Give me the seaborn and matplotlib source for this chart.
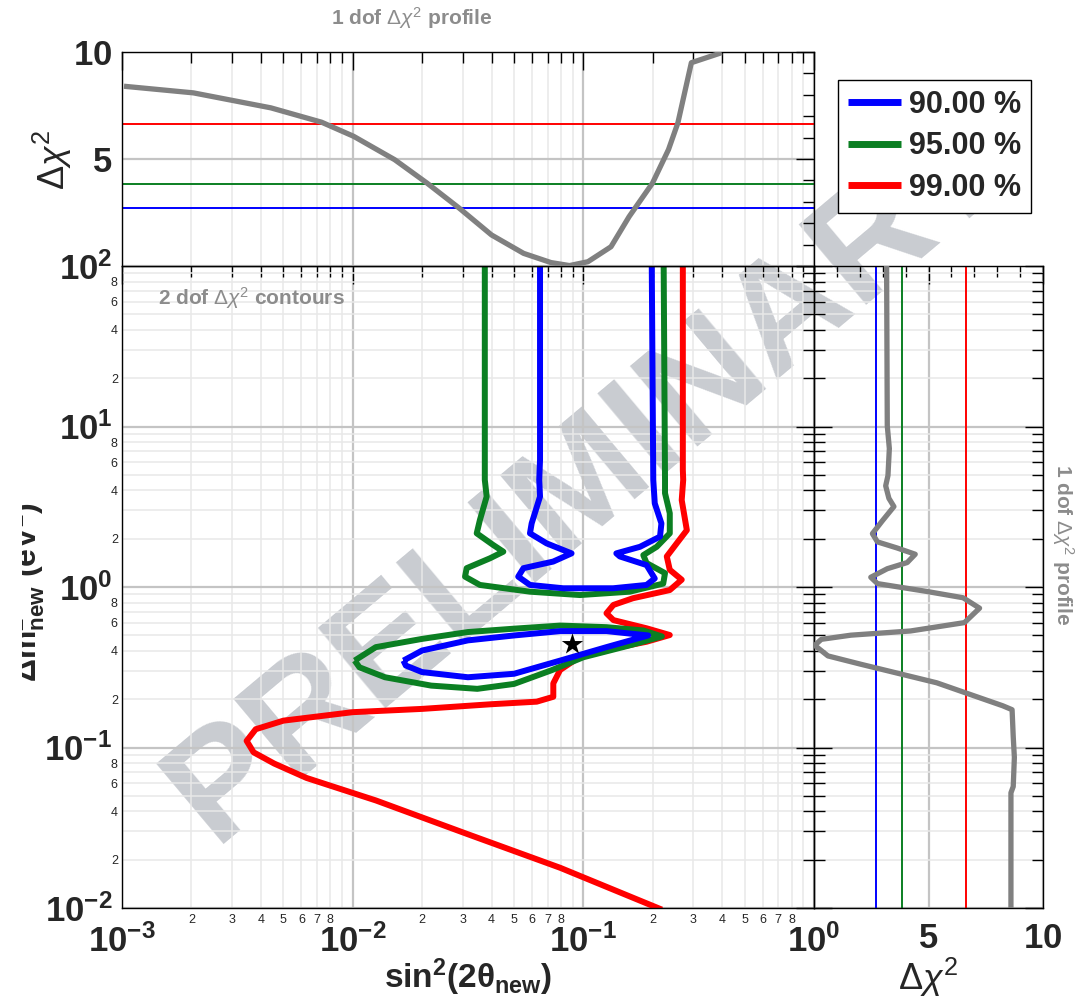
import numpy as np
import pandas as pd
import matplotlib
matplotlib.use("Agg")
import matplotlib.pyplot as plt
import matplotlib.ticker as mticker
from matplotlib.lines import Line2D
from matplotlib.transforms import Bbox
import seaborn as sns

# ---------------- data ----------------
cl_levels = [2.71, 3.84, 6.63]
cl_labels = ["90.00 %", "95.00 %", "99.00 %"]
cl_colors = ["#0000ff", "#0b7f22", "#ff0000"]

# 1 dof profile vs sin^2(2theta)
top_s2 = [0.00102, 0.00204, 0.00442, 0.00733, 0.0101, 0.0152, 0.0210, 0.0290, 0.0400, 0.0551,
          0.0724, 0.0871, 0.1047, 0.1318, 0.158, 0.1995, 0.234, 0.257, 0.294, 0.398]
top_dchi2 = [8.4, 8.09, 7.39, 6.72, 6.06, 4.97, 3.875, 2.70, 1.45, 0.59,
             0.16, 0.02, 0.2, 0.9, 2.31, 3.875, 5.44, 6.69, 9.5, 9.97]

# 1 dof profile vs dm^2
right_dchi2 = [3.17, 3.2, 3.29, 3.23, 3.13, 3.27, 3.49, 2.98, 2.55, 2.77, 3.63, 4.42, 4.07, 3.2,
               2.48, 2.77, 4.93, 6.51, 7.23, 6.57, 4.21, 1.61, 0.32, 0.03, 0.61, 2.05, 3.49,
               5.36, 6.66, 8.24, 8.65, 8.7, 8.75, 8.7, 8.6, 8.6]
right_dm2 = [100, 10.1, 7.29, 4.95, 4.27, 3.57, 3.17, 2.58, 2.15, 1.91, 1.75, 1.60, 1.42, 1.30,
             1.15, 1.05, 0.938, 0.857, 0.738, 0.600, 0.532, 0.501, 0.472, 0.433, 0.372, 0.330,
             0.294, 0.253, 0.218, 0.182, 0.172, 0.117, 0.0867, 0.0571, 0.0522, 0.01]

# 2 dof contours
blue_up_s2 = [0.0649, 0.0649, 0.0644, 0.0649, 0.0597, 0.0587, 0.0693, 0.0889, 0.0740, 0.0550,
              0.0522, 0.0587, 0.0818, 0.1346, 0.188, 0.204, 0.188, 0.144, 0.139, 0.176, 0.215,
              0.218, 0.204, 0.201, 0.198]
blue_up_dm2 = [100, 6.18, 4.65, 3.66, 2.49, 2.16, 1.87, 1.62, 1.44, 1.31, 1.16, 1.03, 0.982,
               0.982, 1.03, 1.13, 1.37, 1.55, 1.62, 1.78, 2.06, 2.49, 3.32, 4.65, 100]

green_up_s2 = [0.0374, 0.0374, 0.0374, 0.0381, 0.0356, 0.0345, 0.0406, 0.0450, 0.0394, 0.0312,
               0.0307, 0.0356, 0.0587, 0.0966, 0.159, 0.222, 0.226, 0.188, 0.182, 0.208, 0.237,
               0.237, 0.226, 0.226, 0.223]
green_up_dm2 = [100, 6.18, 4.65, 3.66, 2.61, 2.16, 1.83, 1.66, 1.51, 1.31, 1.16, 1.03, 0.935,
                0.891, 0.935, 1.05, 1.22, 1.41, 1.58, 1.78, 2.16, 2.88, 3.84, 4.65, 100]

red_s2 = [0.270, 0.270, 0.271, 0.267, 0.281, 0.254, 0.230, 0.237, 0.267, 0.237, 0.164, 0.135,
          0.126, 0.135, 0.188, 0.237, 0.188, 0.135, 0.0966, 0.0793, 0.0741, 0.0741, 0.0628,
          0.0398, 0.0200, 0.0100, 0.00501, 0.00380, 0.00347, 0.00372, 0.00457, 0.00631,
          0.0126, 0.0316, 0.0794, 0.219]
red_dm2 = [100, 5.36, 4.65, 3.48, 2.26, 1.87, 1.55, 1.28, 1.11, 0.957, 0.851, 0.773, 0.686,
           0.622, 0.553, 0.502, 0.456, 0.415, 0.368, 0.304, 0.251, 0.207, 0.193, 0.186, 0.174,
           0.166, 0.147, 0.130, 0.110, 0.0933, 0.0794, 0.0646, 0.0468, 0.0288, 0.0178, 0.00977]

green_low_s2 = [0.0102, 0.0126, 0.0200, 0.0316, 0.0501, 0.0794, 0.126, 0.182, 0.219, 0.158,
                0.100, 0.0724, 0.0501, 0.0347, 0.0219, 0.0138, 0.0107, 0.0102]
green_low_dm2 = [0.348, 0.422, 0.475, 0.524, 0.550, 0.575, 0.562, 0.536, 0.492, 0.432, 0.365,
                 0.302, 0.249, 0.232, 0.243, 0.274, 0.316, 0.348]

blue_low_s2 = [0.0166, 0.0200, 0.0316, 0.0501, 0.0794, 0.126, 0.191, 0.126, 0.0794, 0.0501,
               0.0316, 0.0200, 0.0170, 0.0166]
blue_low_dm2 = [0.348, 0.402, 0.465, 0.499, 0.531, 0.531, 0.499, 0.422, 0.348, 0.288, 0.274,
                0.295, 0.324, 0.348]

best_s2 = [0.089]
best_dm2 = [0.44]

# ---------------- style ----------------
sns.set_theme(style="white")
plt.rcParams["font.family"] = ["Liberation Sans", "DejaVu Sans"]
plt.rcParams["mathtext.fontset"] = "custom"
plt.rcParams["mathtext.rm"] = "Liberation Sans"
plt.rcParams["mathtext.it"] = "Liberation Sans:italic"
plt.rcParams["mathtext.bf"] = "Liberation Sans:bold"
plt.rcParams["mathtext.sf"] = "Liberation Sans"
plt.rcParams["lines.solid_joinstyle"] = "round"
plt.rcParams["lines.solid_capstyle"] = "butt"

W, H = 1079, 998
fig = plt.figure(figsize=(W / 100, H / 100), dpi=100)
fig.patch.set_facecolor("white")


def fx(p):
    return p / W


def fy(p):
    return 1 - p / H


ax_main = fig.add_axes([fx(122), fy(908), (814 - 122) / W, (908 - 266) / H])
ax_top = fig.add_axes([fx(122), fy(266), (814 - 122) / W, (266 - 52) / H])
ax_right = fig.add_axes([fx(814), fy(908), (1043 - 814) / W, (908 - 266) / H])

for a in (ax_main, ax_top, ax_right):
    a.set_zorder(1)
    a.patch.set_alpha(0)
    for s in a.spines.values():
        s.set_color("black")
        s.set_linewidth(1.0)

GRID_MAJ = dict(color="#c4c4c4", lw=1.6)
GRID_MIN = dict(color="#e8e8e8", lw=1.1)

# watermark
fig.text(fx(590), fy(478), "PRELIMINARY", rotation=40, rotation_mode="anchor",
         fontsize=110, fontweight="bold", color="#c9ccd1", ha="center", va="center", zorder=0.5)


def log_minor_fmt(allowed):
    def f(v, pos):
        if v <= 0:
            return ""
        e = np.floor(np.log10(v) + 1e-9)
        m = int(round(v / 10 ** e))
        return str(m) if m in allowed else ""
    return mticker.FuncFormatter(f)


def log_major_fmt(v, pos):
    e = int(round(np.log10(v)))
    return r"$\mathbf{10^{%d}}$" % e


# ---------------- main panel ----------------
ax = ax_main
ax.set_xscale("log")
ax.set_yscale("log")
ax.grid(which="major", **GRID_MAJ)
ax.grid(which="minor", **GRID_MIN)

LW = 4.3
contours = [
    (red_s2, red_dm2, cl_colors[2]),
    (green_up_s2, green_up_dm2, cl_colors[1]),
    (green_low_s2, green_low_dm2, cl_colors[1]),
    (blue_up_s2, blue_up_dm2, cl_colors[0]),
    (blue_low_s2, blue_low_dm2, cl_colors[0]),
]
for xs, ys, c in contours:
    sns.lineplot(x=xs, y=ys, sort=False, estimator=None, color=c, lw=LW, ax=ax)
sns.scatterplot(x=best_s2, y=best_dm2, marker="*", s=260, color="black", linewidth=0, ax=ax, zorder=5)

ax.set_xlim(1e-3, 1)
ax.set_ylim(1e-2, 1e2)
ax.xaxis.set_major_locator(mticker.LogLocator(base=10, numticks=10))
ax.xaxis.set_minor_locator(mticker.LogLocator(base=10, subs=np.arange(2, 10), numticks=20))
ax.yaxis.set_major_locator(mticker.LogLocator(base=10, numticks=10))
ax.yaxis.set_minor_locator(mticker.LogLocator(base=10, subs=np.arange(2, 10), numticks=20))
ax.xaxis.set_major_formatter(mticker.FuncFormatter(log_major_fmt))
ax.yaxis.set_major_formatter(mticker.FuncFormatter(log_major_fmt))
ax.xaxis.set_minor_formatter(log_minor_fmt({2, 3, 4, 5, 6, 7, 8}))
ax.yaxis.set_minor_formatter(log_minor_fmt({2, 4, 6, 8}))
ax.tick_params(which="both", direction="in", top=True, right=True, color="black", width=1.0)
ax.tick_params(which="major", length=13, labelsize=25, pad=12)
ax.tick_params(which="minor", length=8, labelsize=9, pad=4)
ax.tick_params(axis="y", which="major", pad=7)
ax.tick_params(axis="y", which="minor", pad=3)
ax.set_xlabel("")
ax.set_ylabel("")

ax.text(fx(158), fy(305), r"2 dof $\Delta\chi^2$ contours", transform=fig.transFigure,
        fontsize=15, fontweight="bold", color="#8c8c8c", ha="left", va="baseline")

fig.text(fx(468), fy(977), r"$\mathbf{sin^2(2\theta_{new})}$", fontsize=24,
         ha="center", va="center")
ylab = fig.text(fx(27), fy(592), r"$\mathbf{\Delta m^2_{new}\ (eV^2)}$", fontsize=23,
                rotation=90, ha="center", va="center")
ylab.set_clip_box(Bbox.from_extents(22, 0, W, H))
ylab.set_clip_on(True)

# ---------------- top panel ----------------
ax = ax_top
ax.set_xscale("log")
ax.grid(axis="x", which="major", **GRID_MAJ)
ax.grid(axis="x", which="minor", **GRID_MIN)
ax.grid(axis="y", which="major", **GRID_MAJ)
for lev, c in zip(cl_levels, cl_colors):
    ax.axhline(lev, color=c, lw=1.4, zorder=2)
sns.lineplot(x=top_s2, y=top_dchi2, sort=False, estimator=None, color="#808080", lw=3.8, ax=ax, zorder=3)
ax.set_xlim(1e-3, 1)
ax.set_ylim(0, 10)
ax.xaxis.set_major_locator(mticker.LogLocator(base=10, numticks=10))
ax.xaxis.set_minor_locator(mticker.LogLocator(base=10, subs=np.arange(2, 10), numticks=20))
ax.xaxis.set_major_formatter(mticker.NullFormatter())
ax.xaxis.set_minor_formatter(mticker.NullFormatter())
ax.yaxis.set_major_locator(mticker.FixedLocator([0, 5, 10]))
ax.yaxis.set_minor_locator(mticker.MultipleLocator(1))
ax.yaxis.set_major_formatter(mticker.FixedFormatter(["", r"$\mathbf{5}$", r"$\mathbf{10}$"]))
ax.tick_params(which="both", direction="in", top=True, right=True, color="black", width=1.0)
ax.tick_params(which="major", length=13, labelsize=25, pad=7)
ax.tick_params(which="minor", length=8)
ax.set_xlabel("")
ax.set_ylabel("")
fig.text(fx(52), fy(160), r"$\Delta\chi^2$", fontsize=26, rotation=90, ha="center", va="center")
fig.text(fx(412), fy(18), r"1 dof $\Delta\chi^2$ profile", fontsize=15, fontweight="bold",
         color="#8c8c8c", ha="center", va="center")

# ---------------- right panel ----------------
ax = ax_right
ax.set_yscale("log")
ax.grid(axis="y", which="major", **GRID_MAJ)
ax.grid(axis="y", which="minor", **GRID_MIN)
ax.grid(axis="x", which="major", **GRID_MAJ)
for lev, c in zip(cl_levels, cl_colors):
    ax.axvline(lev, color=c, lw=1.4, zorder=2)
sns.lineplot(x=right_dchi2, y=right_dm2, sort=False, estimator=None, orient="y",
             color="#808080", lw=3.8, ax=ax, zorder=3)
ax.set_xlim(0, 10)
ax.set_ylim(1e-2, 1e2)
ax.yaxis.set_major_locator(mticker.LogLocator(base=10, numticks=10))
ax.yaxis.set_minor_locator(mticker.LogLocator(base=10, subs=np.arange(2, 10), numticks=20))
ax.yaxis.set_major_formatter(mticker.NullFormatter())
ax.yaxis.set_minor_formatter(mticker.NullFormatter())
ax.xaxis.set_major_locator(mticker.FixedLocator([0, 5, 10]))
ax.xaxis.set_minor_locator(mticker.MultipleLocator(1))
ax.xaxis.set_major_formatter(mticker.FixedFormatter(["", r"$\mathbf{5}$", r"$\mathbf{10}$"]))
ax.tick_params(which="both", direction="in", top=True, right=True, left=True, color="black", width=1.0)
ax.tick_params(which="major", length=13, labelsize=25, pad=10)
ax.tick_params(which="minor", length=8)
ax.set_xlabel("")
ax.set_ylabel("")
fig.text(fx(928), fy(977), r"$\Delta\chi^2$", fontsize=26, ha="center", va="center")
fig.text(fx(1063), fy(545), r"1 dof $\Delta\chi^2$ profile", fontsize=15, fontweight="bold",
         color="#8c8c8c", rotation=-90, ha="center", va="center")

# ---------------- legend ----------------
handles = [Line2D([0], [0], color=c, lw=5) for c in cl_colors]
leg = fig.legend(handles, cl_labels, loc="upper left", bbox_to_anchor=(fx(838), fy(80)),
                 frameon=True, fancybox=False, edgecolor="black", framealpha=1,
                 prop={"weight": "bold", "size": 22}, handlelength=1.75, handletextpad=0.25,
                 borderpad=0.32, labelspacing=0.38, borderaxespad=0)
leg.get_frame().set_linewidth(1.0)
leg.set_zorder(10)

fig.savefig("out.png", dpi=100)
